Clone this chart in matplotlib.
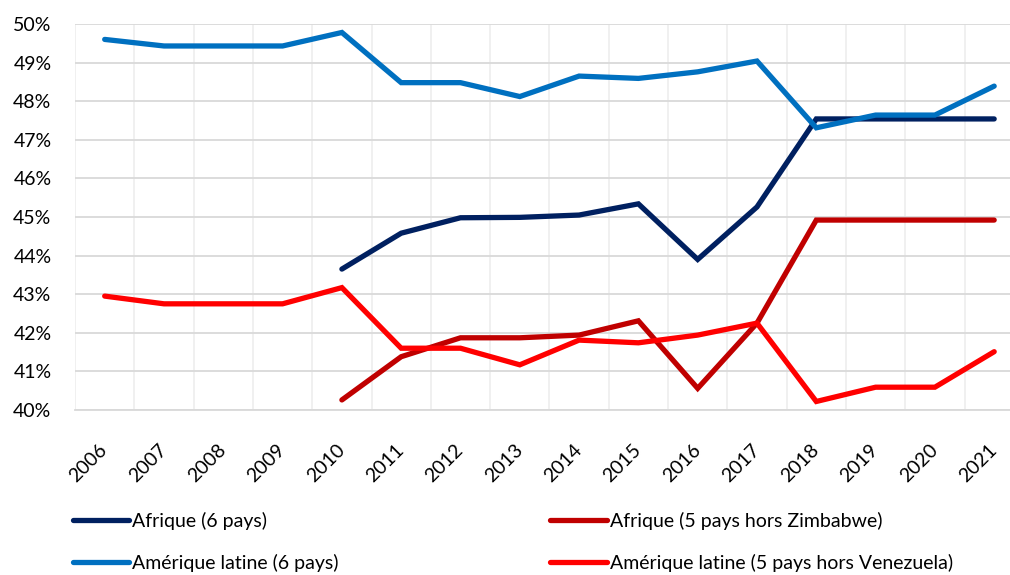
import matplotlib.pyplot as plt
import matplotlib.transforms as mtransforms
from matplotlib.ticker import PercentFormatter, MultipleLocator

plt.rcParams['font.family'] = ['Lato', 'DejaVu Sans']

years = [str(y) for y in range(2006, 2022)]

# part des revenus (en %)
afrique_6 = [None, None, None, None, 43.65, 44.58, 44.98, 44.99, 45.05, 45.34,
             43.90, 45.26, 47.54, 47.54, 47.54, 47.54]
afrique_5 = [None, None, None, None, 40.26, 41.38, 41.87, 41.87, 41.94, 42.31,
             40.56, 42.25, 44.92, 44.92, 44.92, 44.92]
amlat_6 = [49.60, 49.43, 49.43, 49.43, 49.78, 48.48, 48.48, 48.12, 48.65, 48.59,
           48.76, 49.04, 47.31, 47.64, 47.64, 48.39]
amlat_5 = [42.95, 42.75, 42.75, 42.75, 43.17, 41.60, 41.60, 41.17, 41.81, 41.74,
           41.94, 42.25, 40.22, 40.59, 40.59, 41.51]

series = [
    ("Afrique (6 pays)", afrique_6, "#002060"),
    ("Afrique (5 pays hors Zimbabwe)", afrique_5, "#C00000"),
    ("Amérique latine (6 pays)", amlat_6, "#0070C0"),
    ("Amérique latine (5 pays hors Venezuela)", amlat_5, "#FF0000"),
]

fig = plt.figure(figsize=(10.1, 5.75), dpi=100)
ax = fig.add_axes([0.0743, 0.287, 0.9394, 0.6713])

x = list(range(len(years)))
for label, vals, color in series:
    xs = [i for i, v in zip(x, vals) if v is not None]
    ys = [v for v in vals if v is not None]
    ax.plot(xs, ys, color=color, lw=3.8, solid_capstyle='round',
            solid_joinstyle='miter', label=label, zorder=3)

ax.set_xlim(-0.5, len(years) - 0.5)
ax.set_ylim(40, 50)
ax.yaxis.set_major_locator(MultipleLocator(1))
ax.yaxis.set_major_formatter(PercentFormatter(decimals=0))
ax.set_xticks(x)
ax.set_xticklabels(years)
ax.set_xticks([i - 0.5 for i in range(len(years) + 1)], minor=True)

ax.grid(axis='y', which='major', color='#d9d9d9', lw=1.3, zorder=0)
ax.grid(axis='x', which='minor', color='#ededed', lw=1.2, zorder=0)
ax.tick_params(axis='both', which='both', length=0)
ax.tick_params(axis='y', labelsize=14, pad=17)
ax.tick_params(axis='x', labelsize=14, pad=4)

for lab in ax.get_xticklabels():
    lab.set_rotation(45)
    lab.set_ha('right')
    lab.set_va('center')
    lab.set_rotation_mode('anchor')
    lab.set_transform(lab.get_transform() +
                      mtransforms.ScaledTranslation(0, -23 / 72, fig.dpi_scale_trans))

for side in ['top', 'right', 'left']:
    ax.spines[side].set_visible(False)
ax.spines['bottom'].set_color('#d9d9d9')
ax.spines['bottom'].set_linewidth(1.3)

# legend rows: Afrique on top, Amerique latine below
h, l = ax.get_legend_handles_labels()
order = [0, 2, 1, 3]
fig.legend([h[i] for i in order], [l[i] for i in order], ncol=2, loc='upper left',
           bbox_to_anchor=(0.072, 0.1096), frameon=False, fontsize=14,
           handlelength=2.9, handletextpad=0.15, columnspacing=10.9,
           labelspacing=1.21, borderpad=0, borderaxespad=0)

fig.savefig('out.png', dpi=100)
